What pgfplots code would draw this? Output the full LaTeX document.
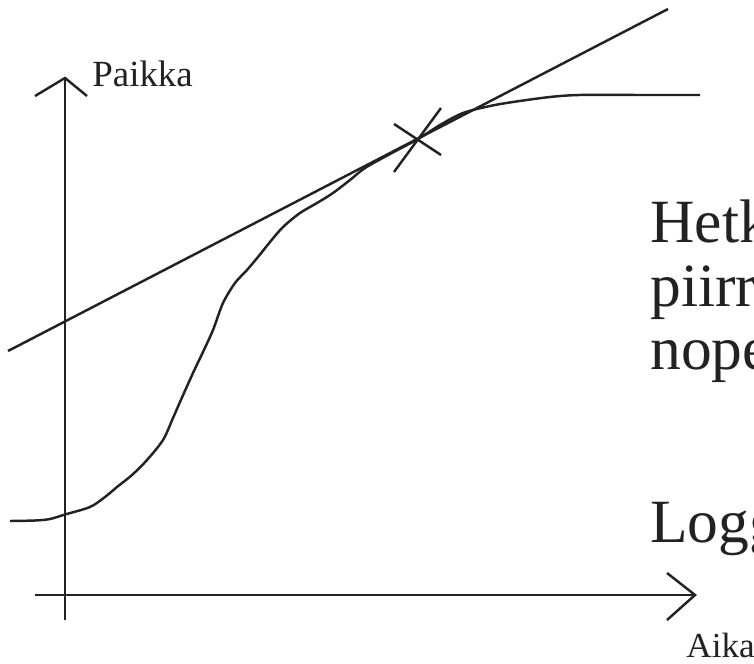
\documentclass[border=0pt]{standalone}
\usepackage{fontspec}
\setmainfont{Liberation Serif}
\usepackage{pgfplots}
\pgfplotsset{compat=1.18}
\definecolor{ink}{HTML}{222222}
\tikzset{sk/.style={draw=ink, line width=1.4pt, mark=none}}

\begin{document}
\begin{tikzpicture}
% one unit = one pixel of the 754x663 sketch
\clip (0,0) rectangle (15.08cm,13.26cm);
\begin{axis}[
  at={(0,0)}, anchor=south west,
  scale only axis, width=15.08cm, height=13.26cm,
  xmin=0, xmax=754, ymin=0, ymax=663, y dir=reverse,
  axis lines=none, clip=false,
]
% axes with open arrow heads
\addplot[sk] coordinates {(65,620) (65,79)};
\addplot[sk] coordinates {(35,96) (65,78) (87,96)};
\addplot[sk] coordinates {(35,595) (694,595)};
\addplot[sk] coordinates {(667,573) (695,595) (667,620)};
% position curve
\addplot[sk, smooth, tension=0.5] coordinates {
  (10,521) (35,520.5) (50,519) (65,514.5) (90,507) (105,497) (117,487)
  (132,475) (147,460) (163,440) (173,418) (180,402) (193,373) (203,352)
  (213,330) (223,303) (235,283) (247,270) (258,257) (270,242) (283,227)
  (300,213) (317,203) (333,193) (350,180) (365,168) (390,154) (418,139)
  (440,125) (463,113) (490,106) (513,102) (550,97) (580,95) (640,95) (700,95)
};
% tangent line
\addplot[sk] coordinates {(8,351) (668,9)};
% cross at the tangent point
\addplot[sk] coordinates {(394,172) (441,108)};
\addplot[sk] coordinates {(394,124) (441,155)};
% labels
\node[anchor=base west, inner sep=0, text=ink, font=\fontsize{21}{24}\selectfont]
  at (axis cs:92,87) {Paikka};
\node[anchor=base west, inner sep=0, text=ink, font=\fontsize{20}{24}\selectfont]
  at (axis cs:686,657) {Aika};
\node[anchor=base west, inner sep=0, text=ink, font=\fontsize{35}{36}\selectfont]
  at (axis cs:650,243) {Hetkellinen};
\node[anchor=base west, inner sep=0, text=ink, font=\fontsize{35}{36}\selectfont]
  at (axis cs:650,307) {piirretty};
\node[anchor=base west, inner sep=0, text=ink, font=\fontsize{35}{36}\selectfont]
  at (axis cs:650,370) {nopeus};
\node[anchor=base west, inner sep=0, text=ink, font=\fontsize{35}{36}\selectfont]
  at (axis cs:650,542) {Logger};
\end{axis}
\end{tikzpicture}
\end{document}
